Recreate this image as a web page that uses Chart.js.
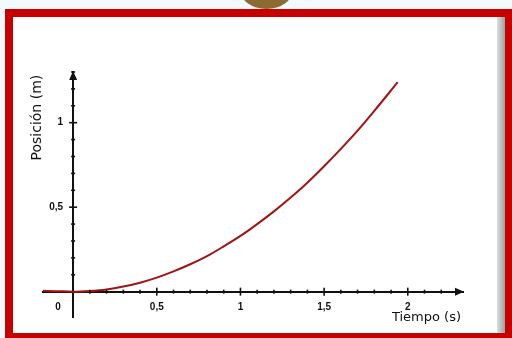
<!DOCTYPE html>
<html lang="es">
<head>
<meta charset="UTF-8">
<title>Posición vs Tiempo</title>
<script src="https://cdn.jsdelivr.net/npm/chart.js"></script>
<style>
  html, body { margin: 0; padding: 0; }
  body { width: 512px; height: 338px; position: relative; overflow: hidden; background: #f1fafc; }
  .blob { position: absolute; left: 240px; top: -30px; width: 53px; height: 39px; border-radius: 50%; background: #8c6b33; }
  .frame { position: absolute; left: 5px; top: 9px; width: 507px; height: 329px; background: #c70000; }
  .paper { position: absolute; left: 13px; top: 17px; width: 484px; height: 316px; background: #fff; }
  .shade { position: absolute; left: 497px; top: 17px; width: 8px; height: 316px; background: linear-gradient(to right, #d9dddd, #9aa2a2); }
  #chart { position: absolute; left: 0; top: 0; }
</style>
</head>
<body>
<div class="blob"></div>
<div class="frame"></div>
<div class="paper"></div>
<div class="shade"></div>
<canvas id="chart" width="512" height="338"></canvas>
<script>
// tiempo (s) y posición (m)
const tiempo   = [-0.18, -0.1, 0, 0.1, 0.2, 0.3, 0.4, 0.5, 0.6, 0.7, 0.8, 0.9, 1.0, 1.1, 1.2, 1.3, 1.4, 1.5, 1.6, 1.7, 1.8, 1.94];
const posicion = [0.005, 0.003, 0, 0.004, 0.013, 0.03, 0.053, 0.083, 0.12, 0.162, 0.21, 0.268, 0.33, 0.4, 0.475, 0.557, 0.645, 0.742, 0.845, 0.953, 1.07, 1.24];

const xRange = [-0.18, 2.33];
const yRange = [-0.15, 1.30];
const ejeX = "Tiempo (s)";
const ejeY = "Posición (m)";

const isMajor = v => Math.abs(v * 2 - Math.round(v * 2)) < 1e-6;
const fmt = v => String(Math.round(v * 10) / 10).replace(".", ",");
const onStep = s => { s.ticks = s.ticks.filter(t => Math.abs(t.value * 10 - Math.round(t.value * 10)) < 1e-6); };
const tickFont = { family: "'Liberation Sans', Arial, sans-serif", size: 10, weight: "bold" };

// flechas, marcas de graduación y títulos de los ejes
const ejes = {
  id: "ejes",
  afterDraw(chart) {
    const { ctx, chartArea: a, scales: { x, y } } = chart;
    const x0 = x.getPixelForValue(0), y0 = y.getPixelForValue(0);
    ctx.save();
    ctx.fillStyle = "#111";
    ctx.strokeStyle = "#111";
    ctx.lineWidth = 1.6;
    x.ticks.forEach(t => {
      const px = x.getPixelForValue(t.value), h = isMajor(t.value) ? 4 : 2;
      if (Math.abs(t.value) < 1e-6) return;
      ctx.beginPath(); ctx.moveTo(px, y0 - h); ctx.lineTo(px, y0 + h); ctx.stroke();
    });
    y.ticks.forEach(t => {
      const py = y.getPixelForValue(t.value), h = isMajor(t.value) ? 4 : 2;
      if (Math.abs(t.value) < 1e-6) return;
      ctx.beginPath(); ctx.moveTo(x0 - h, py); ctx.lineTo(x0 + h, py); ctx.stroke();
    });
    // puntas de flecha
    ctx.beginPath();
    ctx.moveTo(a.right + 1, y0); ctx.lineTo(a.right - 8, y0 - 4); ctx.lineTo(a.right - 8, y0 + 4); ctx.closePath(); ctx.fill();
    ctx.beginPath();
    ctx.moveTo(x0, a.top - 1); ctx.lineTo(x0 - 4, a.top + 8); ctx.lineTo(x0 + 4, a.top + 8); ctx.closePath(); ctx.fill();
    // títulos
    ctx.font = "13px 'DejaVu Sans', sans-serif";
    ctx.textAlign = "right"; ctx.textBaseline = "middle";
    ctx.fillText(ejeX, a.right - 2, y0 + 26);
    ctx.translate(x0 - 36, y.getPixelForValue(1.03));
    ctx.rotate(-Math.PI / 2);
    ctx.textAlign = "center";
    ctx.font = "14px 'DejaVu Sans', sans-serif";
    ctx.fillText(ejeY, 0, 0);
    ctx.restore();
  }
};

new Chart(document.getElementById("chart"), {
  type: "scatter",
  data: {
    datasets: [{
      data: tiempo.map((t, i) => ({ x: t, y: posicion[i] })),
      showLine: true,
      borderColor: "#a01414",
      borderWidth: 2,
      pointRadius: 0,
      tension: 0.4,
      cubicInterpolationMode: "monotone"
    }]
  },
  options: {
    responsive: false,
    animation: false,
    layout: { padding: { left: 43, right: 49, top: 72, bottom: 21 } },
    plugins: { legend: { display: false }, tooltip: { enabled: false } },
    scales: {
      x: {
        type: "linear", min: xRange[0], max: xRange[1],
        position: { y: 0 },
        afterBuildTicks: onStep,
        grid: { display: false, drawTicks: false },
        border: { display: true, color: "#111", width: 2 },
        ticks: {
          stepSize: 0.1, autoSkip: false, maxRotation: 0, padding: 10,
          color: "#111", font: tickFont,
          callback: v => Math.abs(v) < 1e-6 ? "0" + "\u2002".repeat(6) : (v > 0 && isMajor(v) ? fmt(v) : "")
        }
      },
      y: {
        type: "linear", min: yRange[0], max: yRange[1],
        position: { x: 0 },
        afterBuildTicks: onStep,
        grid: { display: false, drawTicks: false },
        border: { display: true, color: "#111", width: 2 },
        ticks: {
          stepSize: 0.1, autoSkip: false,
          color: "#111", font: tickFont,
          callback: v => (v > 0 && isMajor(v)) ? fmt(v) + "\u2002\u2002" : ""
        }
      }
    }
  },
  plugins: [ejes]
});
</script>
</body>
</html>
